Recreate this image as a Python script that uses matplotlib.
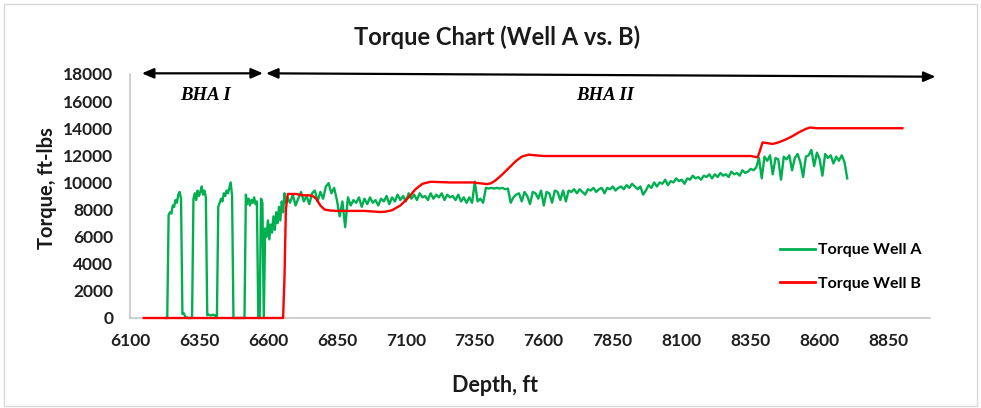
import numpy as np
import matplotlib
matplotlib.use("Agg")
import matplotlib.pyplot as plt
from matplotlib.patches import Rectangle

# ---------------- data ----------------
# Well A torque, BHA I section (5 ft sampling starting at 6230 ft)
wellA_bha1_start = 6230
wellA_bha1_step = 5
wellA_bha1_torque = [
    0, 0, 7600, 7800, 7700, 8300, 8200, 8700, 8500, 9100, 9300, 8800,   # 6230-6285
    300, 350, 100, 50, 0, 0, 0, 0,                                       # 6290-6325
    8800, 9200, 8700, 9400, 9000, 9300, 9700, 9100, 9400, 8900,          # 6330-6375
    200, 250, 200, 200, 250, 200, 200, 0,                                # 6380-6415
    8200, 8500, 8800, 8600, 9200, 9000, 9400, 9200, 9600, 10000, 9000,   # 6420-6470
    0, 0, 0, 0, 0, 0, 0, 0, 0,                                           # 6475-6515
    9100, 8400, 8800, 8300, 8700, 8500, 8900, 8400, 8600,                # 6520-6560
    0, 0, 8800, 8500, 0,                                                 # 6565-6585
    6600, 6000, 7200, 5800, 6900, 6300, 7500, 6500, 7800, 7000,          # 6590-6635
    8200, 7200, 8600, 7800, 9200, 8500,                                  # 6640-6665
]

# Well A torque, BHA II section (10 ft sampling starting at 6670 ft)
wellA_bha2_start = 6670
wellA_bha2_step = 10
wellA_bha2_torque = [
    8900, 8500, 9100, 8300, 8800, 9300, 8600, 9000, 8400, 9200,
    9400, 8600, 9300, 8800, 9700, 9950, 9200, 9600, 8700, 7500,
    8600, 6700, 8900, 8300, 8700, 8500, 8900, 8200, 8800, 8400,
    8900, 8500, 8700, 8300, 8800, 8600, 9000, 8400, 8900, 8600,
    9100, 8700, 9000, 8600, 9200, 8800, 9100, 8700, 9200, 8900,
    9000, 8700, 9200, 8800, 9100, 8900, 9200, 8700, 9100, 8900,
    9000, 8700, 9100, 8600, 8900, 8500, 8900, 8500, 10050, 8600,
    8800, 8500, 9600, 9550, 9600, 9550, 9600, 9550, 9600, 9500,
    9550, 8500, 8900, 9100, 9200, 8600, 9300, 9000, 8400, 9300,
    9200, 8800, 9400, 8300, 9300, 9200, 8500, 9400, 9300, 8700,
    9400, 8600, 9400, 9300, 9500, 9200, 9500, 9300, 9100, 9500,
    9400, 9600, 9300, 9500, 9600, 9200, 9600, 9500, 9700, 9400,
    9600, 9700, 9500, 9800, 9600, 9900, 9700, 9500, 9700, 9100,
    9400, 9800, 9600, 10000, 9700, 10000, 9900, 10200, 9800, 10100,
    10000, 10300, 10100, 10200, 9900, 10300, 10200, 10500, 10300, 10400,
    10200, 10500, 10400, 10600, 10300, 10600, 10400, 10700, 10500, 10600,
    10400, 10800, 10600, 10700, 10500, 10900, 10700, 10800, 11000, 10900,
    11100, 11800, 10300, 11900, 11600, 12000, 10600, 11800, 11700, 10200,
    11900, 11700, 12000, 10900, 11800, 12100, 11500, 10400, 11900, 12000,
    12400, 11200, 12200, 11700, 10500, 12100, 11800, 12000, 11400, 11900,
    11600, 12000, 11500, 10300,
]

# Well B torque
wellB_depth = [6150, 6655, 6660, 6665, 6672, 6700, 6730, 6750, 6762, 6775, 6790,
               6805, 6825, 6850, 6950, 7006, 7025, 7050, 7080, 7110, 7135,
               7160, 7190, 7260, 7343, 7393, 7408, 7425, 7450, 7475, 7500,
               7520, 7545, 7570, 7600, 8350, 8375, 8383, 8393, 8410, 8430,
               8450, 8475, 8500, 8525, 8550, 8565, 8590, 8900]
wellB_torque = [0, 0, 3000, 8000, 9150, 9150, 9050, 9050, 9000, 8800, 8300,
                8000, 7930, 7900, 7900, 7820, 7840, 7950, 8300, 8900, 9500,
                9900, 10050, 10000, 10000, 9880, 9930, 10150, 10600, 11100, 11600,
                11900, 12050, 12000, 11950, 11950, 11850, 12300, 12950, 12900, 12840,
                12950, 13150, 13400, 13700, 13950, 14050, 14000, 14000]

x_ticks = [6100, 6350, 6600, 6850, 7100, 7350, 7600, 7850, 8100, 8350, 8600, 8850]
y_ticks = [0, 2000, 4000, 6000, 8000, 10000, 12000, 14000, 16000, 18000]

wellA_depth = np.concatenate([
    wellA_bha1_start + wellA_bha1_step * np.arange(len(wellA_bha1_torque)),
    wellA_bha2_start + wellA_bha2_step * np.arange(len(wellA_bha2_torque)),
])
wellA_torque = np.array(wellA_bha1_torque + wellA_bha2_torque)

# ---------------- plot ----------------
FONT = "Lato"
W, H = 981, 408
fig = plt.figure(figsize=(W / 100, H / 100), dpi=100)
fig.patches.append(Rectangle((4 / W, 2 / H), 973 / W, 402 / H, transform=fig.transFigure,
                             fill=False, edgecolor="#D9D9D9", lw=1.0))

ax = fig.add_axes([130 / W, 90 / H, 800 / W, 244 / H])
for s in ["top", "right"]:
    ax.spines[s].set_visible(False)
for s in ["left", "bottom"]:
    ax.spines[s].set_color("#C8C8C8")
    ax.spines[s].set_linewidth(1.2)
    ax.spines[s].set_zorder(1)

ax.plot(wellA_depth, wellA_torque, color="#00B050", lw=1.7, label="Torque Well A",
        clip_on=False, zorder=2)
ax.plot(wellB_depth, wellB_torque, color="#FF0000", lw=1.7, label="Torque Well B",
        clip_on=False, zorder=3)

ax.set_xlim(6100, 9000)
ax.set_ylim(0, 18000)
ax.set_xticks(x_ticks)
ax.set_yticks(y_ticks)
ax.tick_params(length=0, labelsize=12.5, colors="#1f1f1f")
ax.tick_params(axis="y", pad=12)
ax.tick_params(axis="x", pad=11)
for lab in ax.get_xticklabels() + ax.get_yticklabels():
    lab.set_fontfamily(FONT)
    lab.set_fontweight("bold")

fig.text(0.507, 0.909, "Torque Chart (Well A vs. B)", ha="center", va="center",
         fontsize=17, fontweight="bold", family=FONT, color="#1a1a1a")
fig.text(0.048, 0.539, "Torque, ft-lbs", ha="center", va="center", rotation=90,
         fontsize=14.5, fontweight="bold", family=FONT, color="#1a1a1a")
fig.text(0.505, 0.056, "Depth, ft", ha="center", va="center",
         fontsize=15.5, fontweight="bold", family=FONT, color="#1a1a1a")

# section arrows
arrow_kw = dict(arrowstyle="<|-|>,head_length=0.7,head_width=0.3", color="black", lw=1.6,
                shrinkA=0, shrinkB=0)
ax.annotate("", xy=(6143, 18050), xytext=(6582, 18050), arrowprops=arrow_kw,
            annotation_clip=False)
ax.annotate("", xy=(6593, 18050), xytext=(9020, 17800), arrowprops=arrow_kw,
            annotation_clip=False)
ax.text(6372, 16450, "BHA I", ha="center", va="center", fontsize=13.5,
        family="Liberation Serif", fontweight="bold", style="italic", clip_on=False)
ax.text(7821, 16450, "BHA II", ha="center", va="center", fontsize=13.5,
        family="Liberation Serif", fontweight="bold", style="italic", clip_on=False)

leg = ax.legend(loc="center left", bbox_to_anchor=(780 / W, (H - 267) / H),
                bbox_transform=fig.transFigure, frameon=False, borderpad=0,
                borderaxespad=0, handlelength=2.2, handletextpad=0.2, labelspacing=1.2,
                prop={"family": FONT, "weight": "bold", "size": 11.5})
for line in leg.get_lines():
    line.set_linewidth(2.0)

fig.savefig("out.png", dpi=100)
